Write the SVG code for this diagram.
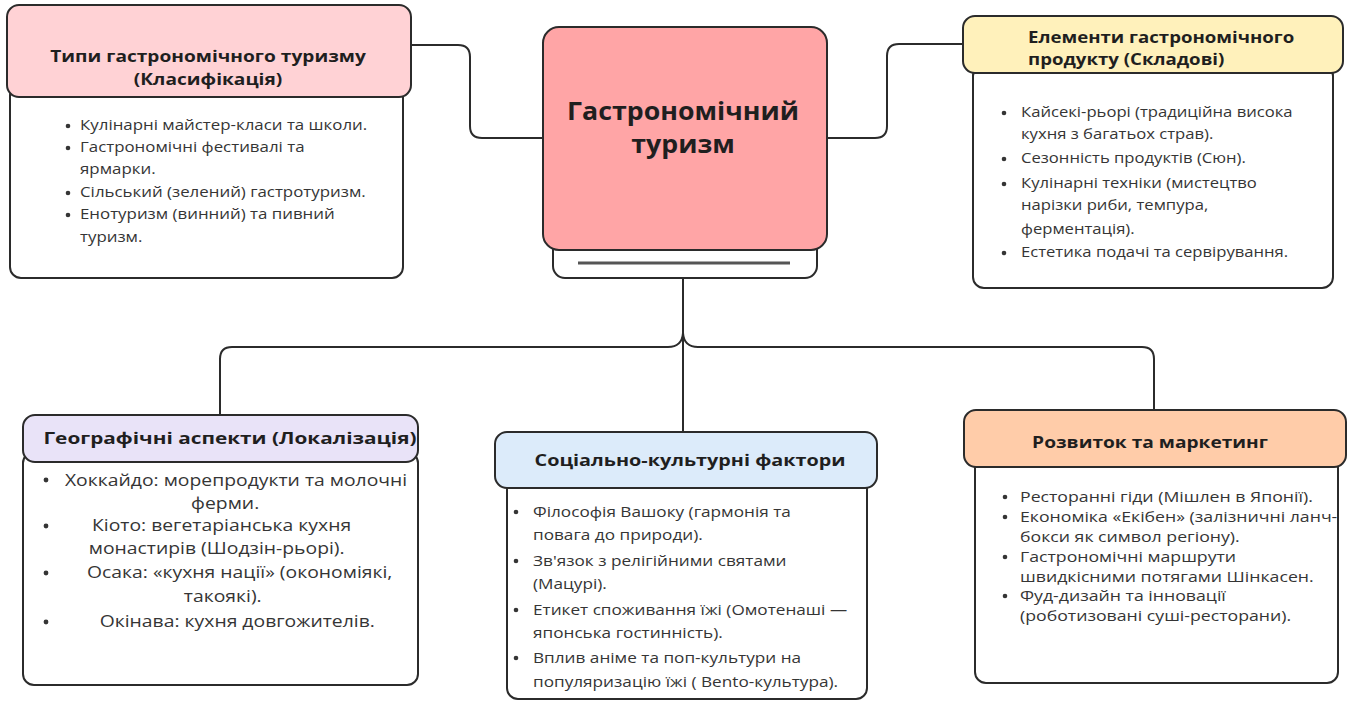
<svg xmlns="http://www.w3.org/2000/svg" width="1355" height="701" viewBox="0 0 1355 701">
<style>
.box{stroke:#2b2b2b;stroke-width:2;}
.body{fill:#ffffff;stroke:#2b2b2b;stroke-width:2;}
.h{font-family:"Open Sans","Noto Sans","DejaVu Sans",sans-serif;font-weight:700;font-size:16.5px;fill:#1f1f1f;}
.hc{text-anchor:middle;}
.t{font-family:"Open Sans","Noto Sans","DejaVu Sans",sans-serif;font-size:15px;fill:#353535;}
.tc{font-family:"Open Sans","Noto Sans","DejaVu Sans",sans-serif;font-size:16px;fill:#353535;text-anchor:middle;}
.b{fill:#353535;}
.c{fill:none;stroke:#2b2b2b;stroke-width:2;}
</style>
<rect width="1355" height="701" fill="#ffffff"/>
<g id="connectors">
<path class="c" d="M411,45 H458 Q470,45 470,57 V126 Q470,138 482,138 H543"/>
<path class="c" d="M827,138 H875 Q887,138 887,126 V56 Q887,44 899,44 H963"/>
<path class="c" d="M683,278 V432"/>
<path class="c" d="M220,415 V359 Q220,347 232,347 H668 Q682,347 683,333"/>
<path class="c" d="M683,333 Q684,347 698,347 H1142 Q1154,347 1154,359 V410"/>
</g>
<g id="center">
<rect class="body" x="553" y="235" width="264" height="43" rx="12"/>
<line x1="578" y1="263" x2="790" y2="263" stroke="#555555" stroke-width="3"/>
<rect class="box" x="543" y="27" width="284" height="223" rx="16" fill="#ffa5a6"/>
<g transform="translate(683 0) scale(1.07 1)">
<text class="h hc" x="0" y="120" style="font-size:25px">Гастрономічний</text>
<text class="h hc" x="0" y="153" style="font-size:25px">туризм</text>
</g>
</g>
<g id="types">
<rect class="body" x="10" y="85" width="393" height="193" rx="11"/>
<rect class="box" x="7" y="5" width="404" height="92" rx="12" fill="#ffd2d5"/>
<g transform="translate(208 0) scale(1.16 1)">
<text class="h hc" x="0" y="62">Типи гастрономічного туризму</text>
<text class="h hc" x="0" y="85">(Класифікація)</text>
</g>
<g class="b"><circle cx="68" cy="126" r="2.3"/><circle cx="68" cy="148" r="2.3"/><circle cx="68" cy="193" r="2.3"/><circle cx="68" cy="215" r="2.3"/></g>
<g class="t" transform="translate(80 0) scale(1.125 1)">
<text x="0" y="130">Кулінарні майстер-класи та школи.</text>
<text x="0" y="152">Гастрономічні фестивалі та</text>
<text x="0" y="174">ярмарки.</text>
<text x="0" y="197">Сільський (зелений) гастротуризм.</text>
<text x="0" y="219">Енотуризм (винний) та пивний</text>
<text x="0" y="242">туризм.</text>
</g>
</g>
<g id="elements">
<rect class="body" x="973" y="65" width="360" height="223" rx="11"/>
<rect class="box" x="963" y="16" width="380" height="57" rx="12" fill="#fff1bb"/>
<g transform="translate(1028 0) scale(1.13 1)">
<text class="h" x="0" y="43">Елементи гастрономічного</text>
<text class="h" x="0" y="65">продукту (Складові)</text>
</g>
<g class="b"><circle cx="1004" cy="113" r="2.3"/><circle cx="1004" cy="159" r="2.3"/><circle cx="1004" cy="184" r="2.3"/><circle cx="1004" cy="253" r="2.3"/></g>
<g class="t" transform="translate(1021 0) scale(1.11 1)">
<text x="0" y="117">Кайсекі-рьорі (традиційна висока</text>
<text x="0" y="139">кухня з багатьох страв).</text>
<text x="0" y="163">Сезонність продуктів (Сюн).</text>
<text x="0" y="188">Кулінарні техніки (мистецтво</text>
<text x="0" y="210">нарізки риби, темпура,</text>
<text x="0" y="234">ферментація).</text>
<text x="0" y="257">Естетика подачі та сервірування.</text>
</g>
</g>
<g id="geo">
<rect class="body" x="23" y="452" width="395" height="233" rx="11"/>
<rect class="box" x="23" y="415" width="395" height="47" rx="12" fill="#e9e3f8"/>
<g transform="translate(230 0) scale(1.26 1)">
<text class="h hc" x="0" y="444">Географічні аспекти (Локалізація)</text>
</g>
<g class="b"><circle cx="46" cy="480" r="2.4"/><circle cx="46" cy="526" r="2.4"/><circle cx="46" cy="573" r="2.4"/><circle cx="46" cy="622" r="2.4"/></g>
<g class="tc" transform="translate(230 0) scale(1.21 1)">
<text x="5" y="486">Хоккайдо: морепродукти та молочні</text>
<text x="-4" y="509">ферми.</text>
<text x="-7" y="531">Кіото: вегетаріанська кухня</text>
<text x="-11" y="554">монастирів (Шодзін-рьорі).</text>
<text x="8" y="578">Осака: «кухня нації» (окономіякі,</text>
<text x="-6" y="602">такоякі).</text>
<text x="6" y="627">Окінава: кухня довгожителів.</text>
</g>
</g>
<g id="social">
<rect class="body" x="507" y="478" width="360" height="221" rx="11"/>
<rect class="box" x="495" y="432" width="382" height="56" rx="12" fill="#dcebfa"/>
<g transform="translate(690 0) scale(1.2 1)">
<text class="h hc" x="0" y="466">Соціально-культурні фактори</text>
</g>
<g class="b"><circle cx="516" cy="512" r="2.3"/><circle cx="516" cy="561" r="2.3"/><circle cx="516" cy="610" r="2.3"/><circle cx="516" cy="658" r="2.3"/></g>
<g class="t" transform="translate(533 0) scale(1.146 1)">
<text x="0" y="517">Філософія Вашоку (гармонія та</text>
<text x="0" y="540">повага до природи).</text>
<text x="0" y="566">Зв'язок з релігійними святами</text>
<text x="0" y="589">(Мацурі).</text>
<text x="0" y="615">Етикет споживання їжі (Омотенаші —</text>
<text x="0" y="638">японська гостинність).</text>
<text x="0" y="663">Вплив аніме та поп-культури на</text>
<text x="0" y="687">популяризацію їжі ( Bento-культура).</text>
</g>
</g>
<g id="marketing">
<rect class="body" x="975" y="457" width="363" height="226" rx="11"/>
<rect class="box" x="964" y="410" width="382" height="57" rx="12" fill="#ffcca9"/>
<g transform="translate(1150 0) scale(1.16 1)">
<text class="h hc" x="0" y="448">Розвиток та маркетинг</text>
</g>
<g class="b"><circle cx="1005" cy="497" r="2.3"/><circle cx="1005" cy="517" r="2.3"/><circle cx="1005" cy="557" r="2.3"/><circle cx="1005" cy="596" r="2.3"/></g>
<g class="t" transform="translate(1020 0) scale(1.18 1)">
<text x="0" y="502">Ресторанні гіди (Мішлен в Японії).</text>
<text x="0" y="522">Економіка «Екібен» (залізничні ланч-</text>
<text x="0" y="542">бокси як символ регіону).</text>
<text x="0" y="562">Гастрономічні маршрути</text>
<text x="0" y="582">швидкісними потягами Шінкасен.</text>
<text x="0" y="601">Фуд-дизайн та інновації</text>
<text x="0" y="621">(роботизовані суші-ресторани).</text>
</g>
</g>
</svg>
